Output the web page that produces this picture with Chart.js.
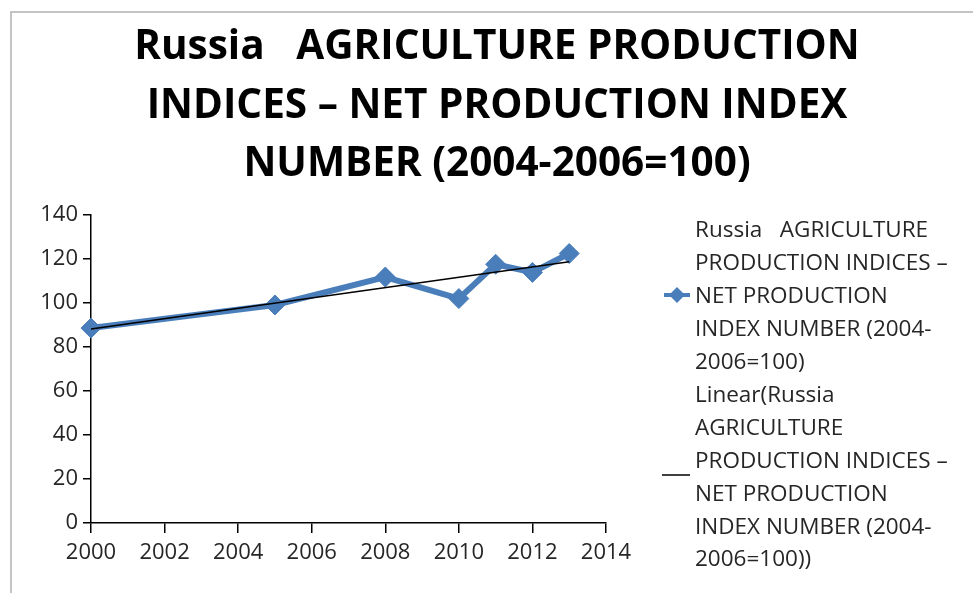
<!DOCTYPE html>
<html lang="en">
<head>
<meta charset="UTF-8">
<title>Russia Agriculture Production Indices</title>
<script src="https://cdn.jsdelivr.net/npm/chart.js"></script>
<style>
  html, body { margin: 0; padding: 0; background: #fff; overflow: hidden; }
  .wrap { position: relative; width: 973px; height: 593px; overflow: hidden; }
  /* thin grey frame round the chart object */
  .frame { position: absolute; left: 10px; top: 11px; width: 1000px; height: 1000px;
           border-left: 2px solid #c4c4c4; border-top: 2px solid #c4c4c4; }
  #chart { position: absolute; left: 0; top: 0; }
</style>
</head>
<body>
<div class="wrap">
  <div class="frame"></div>
  <canvas id="chart" width="973" height="593"></canvas>
</div>

<script>
  // net production index, 2004-2006 = 100
  const years = [2000, 2005, 2008, 2010, 2011, 2012, 2013];
  const netIndex = [88.6, 99.1, 111.8, 102.0, 117.6, 113.9, 122.5];

  // linear trendline end points
  const trendYears = [2000, 2013];
  const trendValues = [88.2, 118.7];

  const xTicks = [2000, 2002, 2004, 2006, 2008, 2010, 2012, 2014];
  const yTicks = [0, 20, 40, 60, 80, 100, 120, 140];

  const titleLines = [
    'Russia   AGRICULTURE PRODUCTION',
    'INDICES \u2013 NET PRODUCTION INDEX',
    'NUMBER (2004-2006=100)'
  ];
  const seriesLegend = [
    'Russia   AGRICULTURE',
    'PRODUCTION INDICES \u2013',
    'NET PRODUCTION',
    'INDEX NUMBER (2004-',
    '2006=100)'
  ];
  const trendLegend = [
    'Linear(Russia',
    'AGRICULTURE',
    'PRODUCTION INDICES \u2013',
    'NET PRODUCTION',
    'INDEX NUMBER (2004-',
    '2006=100))'
  ];

  const BLUE = '#4a7ebb';
  const FONT = 'Open Sans';

  // title and the wrapped legend on the right
  const decorations = {
    id: 'decorations',
    afterDraw(chart) {
      const ctx = chart.ctx;
      ctx.save();
      ctx.fillStyle = '#000';
      ctx.font = 'bold 40.5px "' + FONT + '"';
      ctx.textAlign = 'center';
      ctx.textBaseline = 'alphabetic';
      titleLines.forEach((t, i) => ctx.fillText(t, 497, 59 + i * 58.5));

      ctx.font = '22.5px "' + FONT + '"';
      ctx.textAlign = 'left';
      ctx.textBaseline = 'middle';
      ctx.fillStyle = '#262626';
      const lines = seriesLegend.concat(trendLegend);
      lines.forEach((t, i) => ctx.fillText(t, 695, 231 + i * 32.9));

      // series key: thick blue line with a diamond
      ctx.strokeStyle = BLUE;
      ctx.lineWidth = 4;
      ctx.beginPath();
      ctx.moveTo(664, 295);
      ctx.lineTo(690, 295);
      ctx.stroke();
      ctx.fillStyle = BLUE;
      ctx.beginPath();
      ctx.moveTo(677, 287);
      ctx.lineTo(685, 295);
      ctx.lineTo(677, 303);
      ctx.lineTo(669, 295);
      ctx.closePath();
      ctx.fill();

      // trendline key
      ctx.strokeStyle = '#000';
      ctx.lineWidth = 1.5;
      ctx.beginPath();
      ctx.moveTo(662, 475);
      ctx.lineTo(690, 475);
      ctx.stroke();
      ctx.restore();
    }
  };

  const axisFont = { family: FONT, size: 22 };

  new Chart(document.getElementById('chart'), {
    type: 'line',
    data: {
      datasets: [
        {
          label: 'Linear',
          data: trendYears.map((x, i) => ({ x: x, y: trendValues[i] })),
          borderColor: '#000',
          borderWidth: 1.5,
          pointRadius: 0,
          clip: false
        },
        {
          label: 'Net production index',
          data: years.map((x, i) => ({ x: x, y: netIndex[i] })),
          borderColor: BLUE,
          borderWidth: 6,
          pointStyle: 'rectRot',
          pointRadius: 10,
          pointBackgroundColor: BLUE,
          pointBorderColor: BLUE,
          pointBorderWidth: 1,
          clip: false
        }
      ]
    },
    options: {
      responsive: false,
      animation: false,
      layout: { padding: { top: 215, left: 20, right: 367, bottom: 30 } },
      plugins: {
        legend: { display: false },
        title: { display: false },
        tooltip: { enabled: false }
      },
      scales: {
        x: {
          type: 'linear',
          min: xTicks[0],
          max: xTicks[xTicks.length - 1],
          afterBuildTicks: s => { s.ticks = xTicks.map(v => ({ value: v })); },
          afterFit: s => { s.height = 40; },
          ticks: {
            color: '#262626',
            font: axisFont,
            padding: 7,
            maxRotation: 0,
            callback: v => String(v)
          },
          grid: { drawOnChartArea: false, drawTicks: true, tickLength: 10, color: '#000', lineWidth: 1.5 },
          border: { color: '#000', width: 1.5 }
        },
        y: {
          min: yTicks[0],
          max: yTicks[yTicks.length - 1],
          afterBuildTicks: s => { s.ticks = yTicks.map(v => ({ value: v })); },
          afterFit: s => { s.width = 71; },
          ticks: {
            color: '#262626',
            font: axisFont,
            padding: 5,
            callback: v => String(v)
          },
          grid: { drawOnChartArea: false, drawTicks: true, tickLength: 8, color: '#000', lineWidth: 1.5 },
          border: { color: '#000', width: 1.5 }
        }
      }
    },
    plugins: [decorations]
  });
</script>
</body>
</html>
